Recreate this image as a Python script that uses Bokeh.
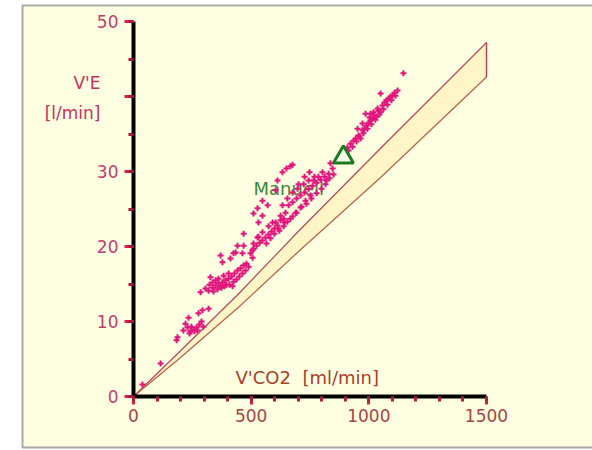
from bokeh.plotting import figure
from bokeh.models import LinearAxis, SingleIntervalTicker, Range1d
from bokeh.embed import file_html
from bokeh.resources import INLINE
from bokeh.core.properties import value

# ---- breath-by-breath data: V'CO2 [ml/min] vs V'E [l/min] ----
vco2 = [38, 115, 183, 187, 212, 221, 234, 230, 242, 255, 268, 280, 289, 246, 259, 276, 293, 319, 285,
        238, 272, 297,
        319, 336, 349, 361, 378, 391, 404, 417, 429, 442, 455, 468, 480, 349, 370, 395, 336, 327, 378,
        370, 425, 442, 468, 463, 468, 506, 412, 434, 497,
        340, 357, 374, 387, 408, 425, 438, 450, 463, 476, 489, 361, 383, 404, 323, 306, 421,
        510, 523, 536, 548, 561, 574, 587, 599, 612, 531, 548, 574, 591, 625, 638, 510, 527, 506, 510,
        527, 548,
        604, 625, 646, 659, 676, 693, 710, 727, 744, 761, 778, 795, 812, 829, 616, 642, 667, 689, 710,
        731, 752, 633, 654, 676, 697, 723, 744, 769, 604, 612, 633, 650, 667, 676, 548, 531, 570, 837,
        846, 820,
        565, 582, 599, 620, 638, 654, 676, 693, 714, 735, 756, 778, 799, 816, 833, 850, 786, 803, 765,
        701, 727, 748,
        867, 880, 901, 922, 944, 965, 952, 956, 973, 990, 1007, 1024, 1041, 1058, 1075, 1092, 1109,
        1122, 1050, 986, 1147, 999, 1016, 1033, 1050, 982, 935, 909, 1067, 1084, 1101, 1007, 973,
        914, 931, 948, 960, 977, 994, 1011, 1028, 1045, 1062, 1079, 1096, 1113, 1037, 1020, 1003]
ve = [1.6, 4.4, 7.5, 7.9, 8.8, 9.7, 10.5, 9.2, 8.7, 8.9, 9.2, 9.6, 10.0, 9.3, 8.7, 11.1, 11.5, 11.7, 13.9,
      8.4, 8.8, 9.3,
      14.1, 14.5, 14.8, 15.1, 15.2, 15.5, 15.7, 16.0, 16.4, 16.8, 17.1, 17.5, 17.7, 15.5, 14.7, 14.9, 15.2,
      15.9, 17.9, 18.8, 19.1, 20.1, 20.1, 19.1, 21.7, 18.5, 18.4, 19.2, 19.1,
      14.0, 14.3, 14.5, 14.7, 14.9, 15.3, 15.6, 16.0, 16.4, 16.8, 17.3, 15.7, 16.1, 16.4, 14.9, 14.4, 14.7,
      19.7, 20.1, 20.5, 20.8, 21.2, 21.6, 22.0, 22.4, 22.8, 21.3, 21.9, 22.7, 23.2, 23.5, 23.7, 20.4, 21.2,
      19.5, 24.4, 25.1, 26.1,
      23.2, 24.1, 24.5, 25.5, 25.9, 26.4, 26.8, 27.2, 27.7, 28.1, 28.5, 28.9, 29.3, 29.7, 22.4, 23.2, 23.7,
      24.5, 25.2, 26.1, 26.8, 25.5, 26.4, 27.2, 27.7, 28.3, 28.8, 29.3, 27.5, 28.8, 29.9, 30.4, 30.7, 30.9,
      24.1, 23.2, 25.5, 31.1, 30.4, 28.8,
      20.4, 21.1, 21.7, 22.1, 22.7, 23.3, 24.0, 24.5, 25.3, 25.7, 26.4, 27.1, 27.7, 28.3, 29.1, 29.6, 29.3,
      29.9, 28.8, 28.3, 29.3, 29.9,
      31.5, 31.9, 32.8, 33.7, 34.4, 34.4, 35.7, 34.8, 35.5, 36.1, 36.8, 37.5, 38.1, 38.8, 39.5, 40.0, 40.5,
      40.8, 40.4, 37.7, 43.1, 36.5, 37.1, 37.3, 37.9, 35.7, 34.1, 33.2, 39.2, 39.7, 40.1, 37.7, 36.4,
      32.8, 33.3, 34.0, 34.7, 35.1, 35.7, 36.3, 36.9, 37.6, 38.3, 38.9, 39.5, 40.1, 38.4, 37.9, 37.2]

# manually set marker
manual_vco2 = [892]
manual_ve = [31.9]
manual_text = "Manuell"
manual_text_x = 510
manual_text_y = 27.7

# reference band (V'E / V'CO2 corridor)
band_vco2 = [0, 200, 450, 700, 1050, 1500]
band_upper = [0, 6.1, 13.8, 22.0, 33.1, 47.2]
band_lower = [0, 5.2, 12.0, 19.3, 29.2, 42.6]

x_label = "V'CO2 \u00a0[ml/min]"
y_label_top = "V'E"
y_label_bottom = "[l/min]"

# ---- canvas geometry (pixels) ----
W, H = 592, 450
ORIGIN_PX, ORIGIN_PY = 133, 396
X_PX = 353 / 1500      # pixels per ml/min
Y_PX = 375 / 50        # pixels per l/min


def sx(px):
    return (px - ORIGIN_PX) / X_PX


def sy(py):
    return (ORIGIN_PY - py) / Y_PX


CREAM = "#FEFEE1"
FONT = value("DejaVu Sans")

p = figure(width=W, height=H, title=None,
           x_range=Range1d(sx(0), sx(W)), y_range=Range1d(sy(H), sy(0)),
           x_axis_location=None, y_axis_location=None,
           toolbar_location=None, output_backend="svg",
           min_border=0, outline_line_color=None,
           background_fill_color="white", border_fill_color="white")
p.grid.visible = False

# panel with grey frame
p.quad(left=[sx(22)], right=[sx(620)], top=[sy(5)], bottom=[sy(447)],
       fill_color=CREAM, line_color="#A9A9A9", line_width=2)

# corridor
p.varea(x=band_vco2, y1=band_lower, y2=band_upper, fill_color="#FFF5C6")
p.line(band_vco2, band_upper, line_color="#B4485A", line_width=1.2)
p.line(band_vco2, band_lower, line_color="#B8604A", line_width=1.2)
p.segment(x0=[band_vco2[-1]], y0=[band_lower[-1]], x1=[band_vco2[-1]], y1=[band_upper[-1]],
          line_color="#B4485A", line_width=1.5)

# marker label, then data on top
p.text(x=[manual_text_x], y=[manual_text_y], text=[manual_text], text_font=FONT,
       text_font_size="18px", text_color="#3A8A3A", text_baseline="middle", text_align="left")
p.scatter(vco2, ve, marker="cross", size=6, line_width=2, line_color="#E2147C")
p.scatter(manual_vco2, manual_ve, marker="triangle", size=20, line_width=3,
          line_color="#1F7A1F", fill_color="#F2F8EA")

# axes at the origin
yaxis = LinearAxis(fixed_location=0, bounds=(0, 50),
                   ticker=SingleIntervalTicker(interval=10, num_minor_ticks=2))
xaxis = LinearAxis(fixed_location=0, bounds=(0, 1500),
                   ticker=SingleIntervalTicker(interval=500, num_minor_ticks=5))
for ax in (xaxis, yaxis):
    ax.axis_line_color = "black"
    ax.axis_line_width = 4
    ax.major_tick_in = 0
    ax.minor_tick_in = 0
    ax.major_tick_line_width = 3
    ax.minor_tick_line_width = 3
    ax.major_label_text_font = "DejaVu Sans"
    ax.major_label_text_font_size = "17px"
yaxis.major_tick_out = 9
yaxis.minor_tick_out = 5
yaxis.major_tick_line_color = "#D81E5B"
yaxis.minor_tick_line_color = "#A8183C"
yaxis.major_label_text_color = "#C0406E"
yaxis.major_label_standoff = 6
yaxis.major_label_overrides = {40: ""}
xaxis.major_tick_out = 8
xaxis.minor_tick_out = 5
xaxis.major_tick_line_color = "#D8203C"
xaxis.minor_tick_line_color = "#B02030"
xaxis.major_label_text_color = "#A84444"
xaxis.major_label_standoff = 4
p.add_layout(yaxis, "left")
p.add_layout(xaxis, "below")

# axis titles
p.text(x=[sx(100)] * 2, y=[sy(82), sy(112)], text=[y_label_top, y_label_bottom],
       text_font=FONT, text_font_size="17px", text_color="#C8305E",
       text_align="right", text_baseline="middle")
p.text(x=[sx(235)], y=[sy(377)], text=[x_label], text_font=FONT, text_font_size="18px",
       text_color="#A8402A", text_align="left", text_baseline="middle")

open("out.html", "w").write(file_html(p, INLINE))
